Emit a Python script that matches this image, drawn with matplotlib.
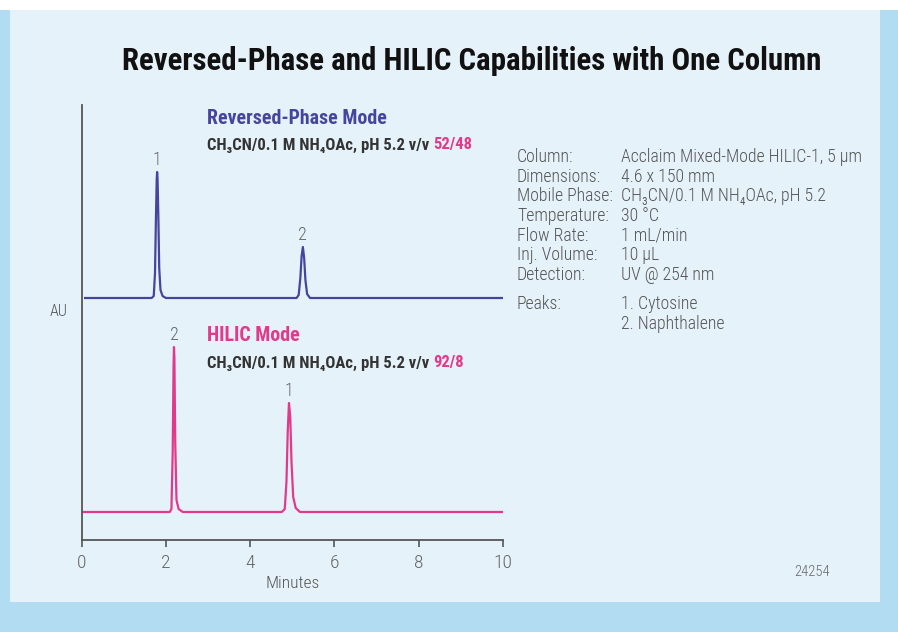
import matplotlib
matplotlib.use("Agg")
import matplotlib.pyplot as plt
from matplotlib.patches import Rectangle

plt.rcParams['font.family'] = ['Roboto Condensed', 'DejaVu Sans']

# chromatogram traces (time in min, signal above baseline)
rp_time = [0.08, 1.66, 1.71, 1.74, 1.76, 1.78, 1.79, 1.80, 1.82, 1.84, 1.87, 1.92, 2.00,
           5.10, 5.15, 5.19, 5.22, 5.25, 5.28, 5.31, 5.35, 5.42, 10.0]
rp_signal = [0, 0, 0.02, 0.25, 0.75, 1.18, 1.26, 1.20, 0.80, 0.30, 0.08, 0.02, 0,
             0, 0.03, 0.20, 0.42, 0.51, 0.40, 0.18, 0.04, 0, 0]
rp_base = 2.42

hilic_time = [0.03, 2.09, 2.13, 2.16, 2.18, 2.19, 2.20, 2.22, 2.25, 2.30, 2.40,
              4.75, 4.82, 4.86, 4.89, 4.92, 4.95, 4.98, 5.02, 5.08, 5.18, 10.0]
hilic_signal = [0, 0, 0.03, 0.60, 1.45, 1.65, 1.55, 0.70, 0.12, 0.03, 0,
                0, 0.03, 0.30, 0.80, 1.09, 0.95, 0.50, 0.15, 0.04, 0, 0]
hilic_base = 0.28

rp_peaks = [("1", 1.79, 1.26), ("2", 5.25, 0.51)]
hilic_peaks = [("2", 2.19, 1.65), ("1", 4.92, 1.09)]

x_ticks = [0, 2, 4, 6, 8, 10]

cond_labels = ["Column:", "Dimensions:", "Mobile Phase:", "Temperature:", "Flow Rate:",
               "Inj. Volume:", "Detection:", "", "Peaks:", ""]
cond_values = ["Acclaim Mixed-Mode HILIC-1, 5 µm", "4.6 x 150 mm",
               "CH\u2083CN/0.1 M NH\u2084OAc, pH 5.2", "30 °C", "1 mL/min", "10 µL",
               "UV @ 254 nm", "", "1. Cytosine", "2. Naphthalene"]

blue = "#45459e"
pink = "#e2398a"
gray = "#555555"

W, H = 898, 632
fig = plt.figure(figsize=(W / 100, H / 100), dpi=100, facecolor="#b2dcf2")

# background pieces
fig.patches.append(Rectangle((0, 1 - 10 / H), 1, 10 / H, transform=fig.transFigure,
                             facecolor="white", edgecolor="none", zorder=-5))
fig.patches.append(Rectangle((10 / W, 1 - 602 / H), 870 / W, 592 / H, transform=fig.transFigure,
                             facecolor="#e6f2fa", edgecolor="none", zorder=-5))

ax = fig.add_axes([81.7 / W, (H - 540) / H, (503 - 81.7) / W, 435 / H], zorder=2)
ax.set_facecolor("none")
ax.set_xlim(0, 10)
ax.set_ylim(0, 4.35)
for s in ["top", "right"]:
    ax.spines[s].set_visible(False)
for s in ["left", "bottom"]:
    ax.spines[s].set_color(gray)
    ax.spines[s].set_linewidth(1.3)
ax.set_yticks([])
ax.set_xticks(x_ticks)
ax.tick_params(axis="x", direction="out", length=5, width=1.2, color=gray,
               labelsize=14, labelcolor="#666666", pad=5)
for lab in ax.get_xticklabels():
    lab.set_fontweight(300)
ax.set_xlabel("Minutes", fontsize=12.5, color=gray, labelpad=3, fontweight=300)

ax.plot(rp_time, [v + rp_base for v in rp_signal], color=blue, lw=1.6)
ax.plot(hilic_time, [v + hilic_base for v in hilic_signal], color=pink, lw=1.6)

for lbl, t, h in rp_peaks:
    ax.annotate(lbl, (t, rp_base + h), xytext=(0, 2), textcoords="offset points",
                ha="center", va="bottom", fontsize=13, color="#666666", fontweight=300)
for lbl, t, h in hilic_peaks:
    ax.annotate(lbl, (t, hilic_base + h), xytext=(0, 2), textcoords="offset points",
                ha="center", va="bottom", fontsize=13, color="#666666", fontweight=300)

ax.text(-0.56, 2.28, "AU", fontsize=11.5, color=gray, ha="center", va="center",
        fontweight=300)

# mode captions
fig.text(207 / W, 1 - 118 / H, "Reversed-Phase Mode", fontsize=14.3, fontweight="bold",
         color=blue, va="center")
t1 = fig.text(207 / W, 1 - 145 / H, "CH\u2083CN/0.1 M NH\u2084OAc, pH 5.2 v/v ", fontsize=12,
              fontweight="bold", color="#333333", va="center")
ax.annotate("52/48", xy=(1, 0.5), xycoords=t1, va="center", ha="left", fontsize=12,
            fontweight="bold", color=pink, annotation_clip=False)

fig.text(207 / W, 1 - 336 / H, "HILIC Mode", fontsize=14.3, fontweight="bold",
         color=pink, va="center")
t2 = fig.text(207 / W, 1 - 363 / H, "CH\u2083CN/0.1 M NH\u2084OAc, pH 5.2 v/v ", fontsize=12,
              fontweight="bold", color="#333333", va="center")
ax.annotate("92/8", xy=(1, 0.5), xycoords=t2, va="center", ha="left", fontsize=12,
            fontweight="bold", color=pink, annotation_clip=False)

# title
fig.text(472 / W, 1 - 61 / H, "Reversed-Phase and HILIC Capabilities with One Column",
         fontsize=22.2, fontweight="bold", color="#111111", ha="center", va="center")

# conditions block
row_y = 157
for lab, val in zip(cond_labels, cond_values):
    fig.text(517 / W, 1 - row_y / H, lab, fontsize=12.8, color=gray, va="center", fontweight=300)
    fig.text(621 / W, 1 - row_y / H, val, fontsize=12.8, color=gray, va="center", fontweight=300)
    row_y += 19.7 if lab or val else 9.5

fig.text(812 / W, 1 - 572 / H, "24254", fontsize=10.5, color="#666666", ha="center",
         va="center", fontweight=300)

fig.savefig("out.png", dpi=100, facecolor=fig.get_facecolor())
